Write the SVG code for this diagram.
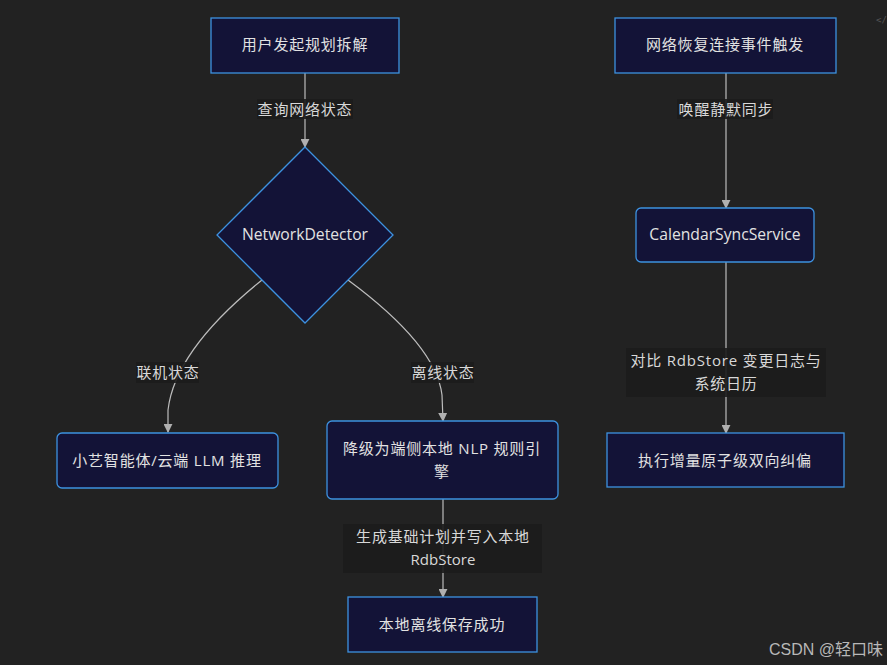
<svg xmlns="http://www.w3.org/2000/svg" width="887" height="665" viewBox="0 0 887 665">
<style>
.bg{fill:#222222}
.node rect,.node polygon{fill:#131337;stroke:#3d92e0;stroke-width:1.3}
.t{font-family:"Open Sans","Noto Sans CJK SC",sans-serif;font-size:15px;fill:#e2e2e2;text-anchor:middle;letter-spacing:0.8px}
.lat{font-size:15.7px;letter-spacing:0}
.lt{font-family:"Open Sans","Noto Sans CJK SC",sans-serif;font-size:15px;fill:#d8d8d8;text-anchor:middle;letter-spacing:0.8px}
.lb{fill:#1c1c1c;opacity:0.9}
.e{fill:none;stroke:#bdbdbd;stroke-width:1.2}
</style>
<defs>
<marker id="arr" viewBox="0 0 10 10" refX="9" refY="5" markerWidth="9" markerHeight="9" markerUnits="userSpaceOnUse" orient="auto">
<path d="M0,0 L10,5 L0,10 z" fill="#b0b0b0"/>
</marker>
</defs>
<rect class="bg" x="0" y="0" width="887" height="665"/>
<g id="connectors">
<path class="e" d="M305,73 L305,147" marker-end="url(#arr)"/>
<path class="e" d="M262,280 Q175,350 168,410 L168,432" marker-end="url(#arr)"/>
<path class="e" d="M348,280 Q436,345 442,395 L443,421" marker-end="url(#arr)"/>
<path class="e" d="M443,499 L443,597" marker-end="url(#arr)"/>
<path class="e" d="M726,73 L726,208" marker-end="url(#arr)"/>
<path class="e" d="M726,262 L726,433" marker-end="url(#arr)"/>
</g>
<g id="edge-labels">
<rect class="lb" x="257" y="99" width="96" height="20"/>
<text class="lt" x="305" y="115">查询网络状态</text>
<rect class="lb" x="136" y="362" width="63" height="21"/>
<text class="lt" x="168" y="378">联机状态</text>
<rect class="lb" x="411" y="362" width="63" height="21"/>
<text class="lt" x="443" y="378">离线状态</text>
<rect class="lb" x="343" y="524" width="199" height="49"/>
<text class="lt" x="443" y="542">生成基础计划并写入本地</text>
<text class="lt" x="443" y="565" style="letter-spacing:0">RdbStore</text>
<rect class="lb" x="677" y="99" width="96" height="20"/>
<text class="lt" x="726" y="115">唤醒静默同步</text>
<rect class="lb" x="626" y="348" width="200" height="49"/>
<text class="lt" x="726" y="366">对比 RdbStore 变更日志与</text>
<text class="lt" x="726" y="389">系统日历</text>
</g>
<g id="n-start" class="node">
<rect x="211" y="18" width="188" height="55"/>
<text class="t" x="305" y="50">用户发起规划拆解</text>
</g>
<g id="n-detector" class="node">
<polygon points="305,147 393,235 305,323 217,235"/>
<text class="t lat" x="305" y="240">NetworkDetector</text>
</g>
<g id="n-online" class="node">
<rect x="57" y="433" width="221" height="55" rx="5"/>
<text class="t" x="167" y="466">小艺智能体/云端 LLM 推理</text>
</g>
<g id="n-offline" class="node">
<rect x="327" y="421" width="231" height="78" rx="5"/>
<text class="t" x="442" y="454">降级为端侧本地 NLP 规则引</text>
<text class="t" x="442" y="477">擎</text>
</g>
<g id="n-saved" class="node">
<rect x="348" y="597" width="189" height="55"/>
<text class="t" x="442" y="630">本地离线保存成功</text>
</g>
<g id="n-reconnect" class="node">
<rect x="615" y="18" width="221" height="55"/>
<text class="t" x="725" y="50">网络恢复连接事件触发</text>
</g>
<g id="n-sync" class="node">
<rect x="636" y="208" width="178" height="54" rx="5"/>
<text class="t lat" x="725" y="240">CalendarSyncService</text>
</g>
<g id="n-reconcile" class="node">
<rect x="607" y="433" width="237" height="54"/>
<text class="t" x="725" y="466">执行增量原子级双向纠偏</text>
</g>
<text x="876" y="23" font-family="DejaVu Sans Mono,monospace" font-size="9" fill="#555">&lt;/</text>
<text x="769" y="655" font-family="'Liberation Sans','Noto Sans CJK SC',sans-serif" font-size="16" fill="#b8b8b8">CSDN @轻口味</text>
</svg>
